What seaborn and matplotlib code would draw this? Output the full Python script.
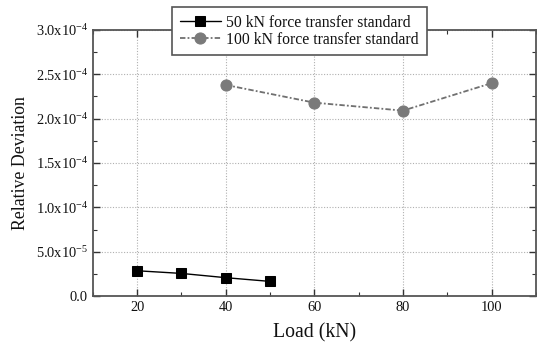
import matplotlib
matplotlib.use("Agg")
import matplotlib.pyplot as plt
import seaborn as sns
import pandas as pd
from matplotlib.ticker import MultipleLocator, FixedLocator, FixedFormatter

sns.set_theme(style="ticks")
plt.rcParams['font.family'] = ['Liberation Serif', 'DejaVu Serif']
plt.rcParams['mathtext.fontset'] = 'custom'
plt.rcParams['mathtext.rm'] = 'Liberation Serif'
plt.rcParams['mathtext.it'] = 'Liberation Serif:italic'
plt.rcParams['mathtext.bf'] = 'Liberation Serif:bold'

# data
load_50 = [20, 30, 40, 50]
dev_50 = [2.85e-5, 2.55e-5, 2.07e-5, 1.65e-5]
load_100 = [40, 60, 80, 100]
dev_100 = [2.38e-4, 2.18e-4, 2.09e-4, 2.40e-4]
series_names = ["50 kN force transfer standard", "100 kN force transfer standard"]
y_ticks = [0.0, 5.0e-5, 1.0e-4, 1.5e-4, 2.0e-4, 2.5e-4, 3.0e-4]
y_tick_labels = ["0.0", r"5.0x10$^{-5}$", r"1.0x10$^{-4}$", r"1.5x10$^{-4}$",
                 r"2.0x10$^{-4}$", r"2.5x10$^{-4}$", r"3.0x10$^{-4}$"]
x_ticks = [20, 40, 60, 80, 100]

df50 = pd.DataFrame({"Load": load_50, "Dev": dev_50})
df100 = pd.DataFrame({"Load": load_100, "Dev": dev_100})

fig = plt.figure(figsize=(5.37, 3.52), dpi=100)
ax = fig.add_axes([0.1726, 0.159, 0.8254, 0.756])

sns.lineplot(data=df50, x="Load", y="Dev", ax=ax, color="black", linewidth=1.0,
             marker="s", markersize=7, markeredgecolor="black", markerfacecolor="black",
             label=series_names[0], zorder=3)
sns.lineplot(data=df100, x="Load", y="Dev", ax=ax, color="#707070", linewidth=1.3,
             linestyle=(0, (3, 1.2, 1, 1.2)), marker="o", markersize=8,
             markeredgecolor="#7a7a7a", markerfacecolor="#7a7a7a",
             label=series_names[1], zorder=3)

ax.set_xlim(10, 110)
ax.set_ylim(0, 3.0e-4)
ax.xaxis.set_major_locator(FixedLocator(x_ticks))
ax.xaxis.set_minor_locator(MultipleLocator(10))
ax.yaxis.set_major_locator(FixedLocator(y_ticks))
ax.yaxis.set_major_formatter(FixedFormatter(y_tick_labels))
ax.yaxis.set_minor_locator(MultipleLocator(2.5e-5))

ax.grid(True, which="major", color="#b0b0b0", linestyle=(0, (1, 1.5)), linewidth=0.8)
ax.set_axisbelow(True)

ax.tick_params(which="both", direction="in", top=True, right=True, colors="#333333",
               labelcolor="#111111")
ax.tick_params(which="major", length=5, width=1.0, labelsize=10.4)
ax.tick_params(which="minor", length=3, width=0.8)
for s in ax.spines.values():
    s.set_color("#555555")
    s.set_linewidth(1.3)

ax.set_xlabel("Load (kN)", fontsize=14.2, color="#111111", labelpad=7)
ax.set_ylabel("Relative Deviation", fontsize=12.8, color="#111111", labelpad=5)

leg = ax.legend(loc="upper left", bbox_to_anchor=(0.179, 1.0865), fontsize=11.3,
                frameon=True, fancybox=False, edgecolor="#555555", framealpha=1,
                handlelength=2.6, handletextpad=0.35, borderpad=0.5,
                labelspacing=0.05, borderaxespad=0)
leg.get_frame().set_linewidth(1.2)
for t in leg.get_texts():
    t.set_color("#111111")

fig.savefig("out.png", dpi=100)
